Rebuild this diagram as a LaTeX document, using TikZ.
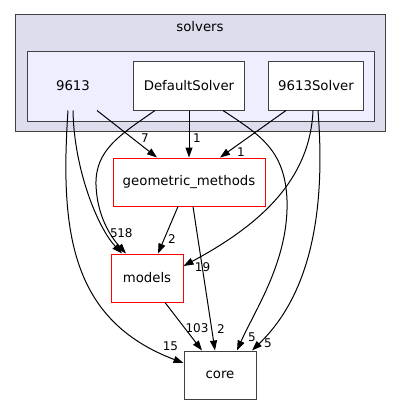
\documentclass[tikz,border=0pt]{standalone}
\usepackage{fontspec}
\setmainfont{DejaVu Sans}
\usetikzlibrary{arrows.meta}
\definecolor{outerfill}{HTML}{DDDDEE}
\definecolor{innerfill}{HTML}{EEEEFF}

\begin{document}
\begin{tikzpicture}[x=1pt,y=-1pt,line width=1pt,
  dirbox/.style={draw=black!75,fill=white,minimum height=48pt,inner sep=0pt,font=\fontsize{13.3}{16}\selectfont},
  reddir/.style={dirbox,draw=red},
  dep/.style={-{Triangle[length=10pt,width=7pt]},black},
  cnt/.style={font=\fontsize{12}{14}\selectfont,inner sep=0pt}]
\useasboundingbox (0,0) rectangle (401,404);

% clusters
\draw[black!75,fill=outerfill] (15,15) rectangle (385,131);
\node[font=\fontsize{13.3}{16}\selectfont] (solvers) at (200,27) {solvers};
\draw[black!75,fill=innerfill] (27,52) rectangle (374,121);

% directories
\node[dirbox,draw=none,fill=none,minimum width=50pt] (d9613) at (73,86) {9613};
\node[dirbox,minimum width=111pt] (default) at (189,86) {DefaultSolver};
\node[dirbox,minimum width=95pt] (solver) at (316,86) {9613Solver};
\node[reddir,minimum width=152pt] (geo) at (189,182) {geometric\_methods};
\node[reddir,minimum width=72pt] (models) at (147,278) {models};
\node[dirbox,minimum width=72pt] (core) at (220,375) {core};

% dependencies
\draw[dep] ([xshift=24pt]d9613.south) -- ([xshift=-32pt]geo.north) node[cnt,shift={(-12,-19)}] {7};
\draw[dep] (default.south) -- (geo.north) node[cnt,shift={(8,-19)}] {1};
\draw[dep] ([xshift=-30pt]solver.south) -- ([xshift=31pt]geo.north) node[cnt,shift={(21,-5)}] {1};
\draw[dep] (d9613.south) .. controls (74,170) and (98,228) .. ([xshift=-25pt]models.north) node[cnt,shift={(3,-20)}] {18};
\draw[dep] ([xshift=-34pt]default.south) .. controls (120,135) and (95,150) .. (96,185) .. controls (97,215) and (110,236) .. ([xshift=-21pt]models.north) node[cnt,shift={(-12,-20)}] {5};
\draw[dep] ([xshift=-5pt]d9613.south) .. controls (60,230) and (70,320) .. ([yshift=12pt]core.west) node[cnt,shift={(-13,-17)}] {15};
\draw[dep] ([xshift=34pt]default.south) .. controls (260,135) and (285,150) .. (287,200) .. controls (289,260) and (255,310) .. ([xshift=17pt]core.north) node[cnt,shift={(15,-13)}] {5};
\draw[dep] ([xshift=-3pt]solver.south) .. controls (310,180) and (260,225) .. ([yshift=12pt]models.east) node[cnt,shift={(19,1)}] {19};
\draw[dep] ([xshift=2pt]solver.south) .. controls (325,200) and (315,290) .. ([xshift=32pt]core.north) node[cnt,shift={(16,-7)}] {5};
\draw[dep] ([xshift=4pt]geo.south) -- ([xshift=-5pt]core.north) node[cnt,shift={(6,-21)}] {2};
\draw[dep] ([xshift=-11pt]geo.south) -- ([xshift=11pt]models.north) node[cnt,shift={(14,-14)}] {2};
\draw[dep] ([xshift=18pt]models.south) -- ([xshift=-18pt]core.north) node[cnt,shift={(-5,-22)}] {103};

\end{tikzpicture}
\end{document}
